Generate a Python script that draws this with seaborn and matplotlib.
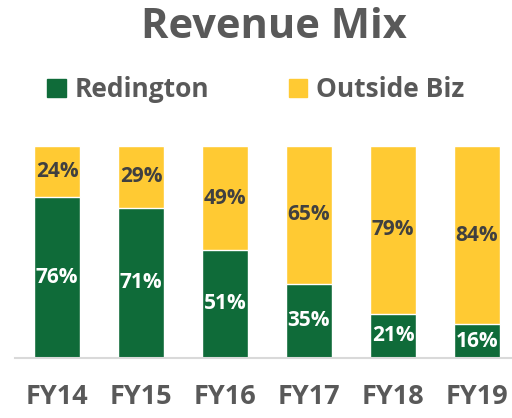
import pandas as pd
import matplotlib.pyplot as plt
import seaborn as sns
from matplotlib.patches import Patch

years = ["FY14", "FY15", "FY16", "FY17", "FY18", "FY19"]
redington = [76, 71, 51, 35, 21, 16]
outside_biz = [24, 29, 49, 65, 79, 84]

green = "#0F6B39"
yellow = "#FFCA33"
gray = "#595959"

sns.set_theme(style="white")
plt.rcParams["font.family"] = ["Open Sans", "DejaVu Sans"]

df = pd.DataFrame({"year": years, "red": redington, "out": outside_biz})
df["total"] = df["red"] + df["out"]

fig = plt.figure(figsize=(5.12, 4.18), dpi=100)
ax = fig.add_axes([15 / 512, 0.1435, 504 / 512, 0.507])

sns.barplot(data=df, x="year", y="total", color=yellow, width=0.55,
            saturation=1, ax=ax)
sns.barplot(data=df, x="year", y="red", color=green, width=0.55,
            saturation=1, ax=ax)

# etiquetas de porcentaje
for i, (r, o) in enumerate(zip(redington, outside_biz)):
    ax.text(i, r / 2, f"{r}%", ha="center", va="center", color="white",
            fontsize=15, fontweight="bold")
    ax.text(i, r + o / 2, f"{o}%", ha="center", va="center", color="#404040",
            fontsize=15, fontweight="bold")

ax.set_xlim(-0.5, 5.5)
ax.set_ylim(0, 100)
ax.set_xlabel("")
ax.set_ylabel("")
ax.set_yticks([])
for s in ["top", "right", "left"]:
    ax.spines[s].set_visible(False)
ax.spines["bottom"].set_color("#D9D9D9")
ax.spines["bottom"].set_linewidth(1.5)
ax.tick_params(axis="x", length=0, pad=19, labelsize=19.5, labelcolor=gray)
for lbl in ax.get_xticklabels():
    lbl.set_fontweight("bold")

fig.text(0.535, 0.935, "Revenue Mix", ha="center", va="center", fontsize=30,
         fontweight="bold", color=gray)

handles = [Patch(color=green, label="Redington"),
           Patch(color=yellow, label="Outside Biz")]
leg = fig.legend(handles=handles, loc="center", bbox_to_anchor=(0.5, 0.785),
                 ncol=2, frameon=False, handlelength=0.7, handleheight=0.7,
                 handletextpad=0.35, columnspacing=3.0,
                 prop={"size": 19, "weight": "bold"})
for t in leg.get_texts():
    t.set_color(gray)

fig.savefig("out.png", dpi=100)
